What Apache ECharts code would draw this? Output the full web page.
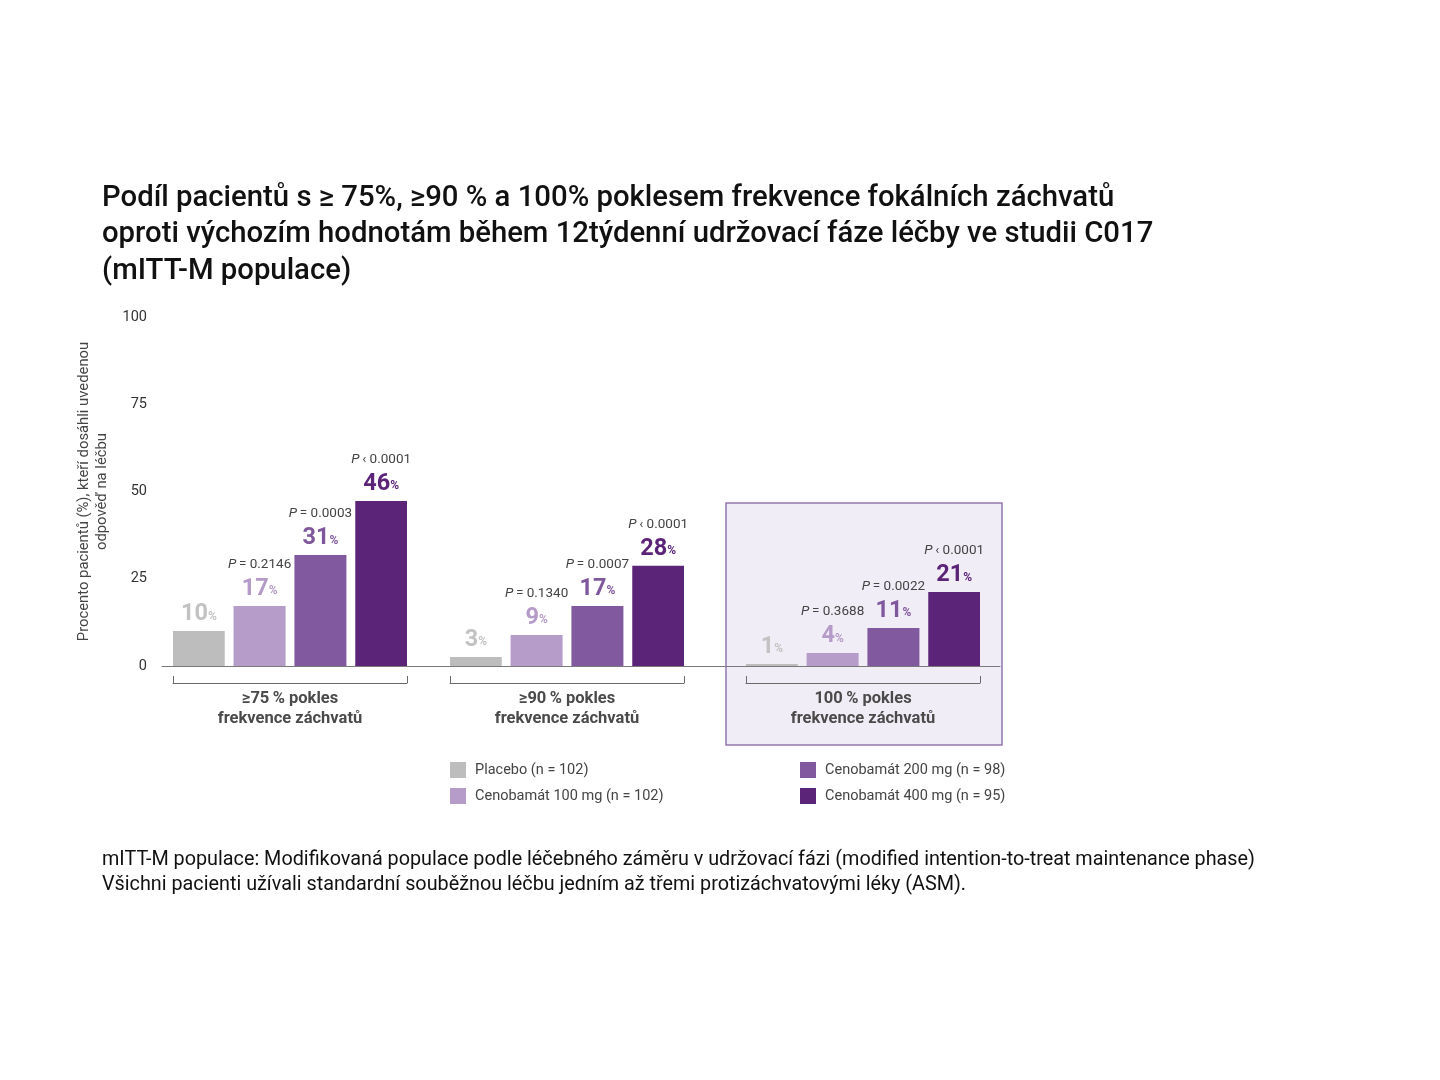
<!DOCTYPE html>
<html>
<head>
<meta charset="utf-8">
<script src="https://cdn.jsdelivr.net/npm/echarts@6/dist/echarts.min.js"></script>
<style>
html,body{margin:0;padding:0;background:#fff;}
#c{width:1440px;height:1080px;}
</style>
</head>
<body>
<div id="c"></div>
<script>
// ---- data ----
const groups = ['\u226575\u2009% pokles\nfrekvence záchvatů', '\u226590\u2009% pokles\nfrekvence záchvatů', '100\u2009% pokles\nfrekvence záchvatů'];
const seriesNames = ['Placebo (n = 102)', 'Cenobamát 100 mg (n = 102)', 'Cenobamát 200 mg (n = 98)', 'Cenobamát 400 mg (n = 95)'];
const placebo = [10, 2.6, 0.6];
const ceno100 = [17.2, 8.9, 3.7];
const ceno200 = [31.8, 17.2, 10.9];
const ceno400 = [47.3, 28.7, 21.2];
const placeboLbl = ['10', '3', '1'];
const ceno100Lbl = ['17', '9', '4'];
const ceno200Lbl = ['31', '17', '11'];
const ceno400Lbl = ['46', '28', '21'];
const ceno100P = ['= 0.2146', '= 0.1340', '= 0.3688'];
const ceno200P = ['= 0.0003', '= 0.0007', '= 0.0022'];
const ceno400P = ['\u2039 0.0001', '\u2039 0.0001', '\u2039 0.0001'];
const yTicks = [0, 25, 50, 75, 100];

// ---- style ----
const barColors = ['#bdbdbd', '#b69cc8', '#81599f', '#5c2479'];
const lblColors = ['#c2c2c2', '#b59bc7', '#7f579d', '#5c2479'];
const FONT = 'Roboto, "Noto Sans", sans-serif';
const gridLefts = [173, 450, 746];
const GRID_W = 234, GRID_TOP = 317, GRID_H = 349;

const values = [placebo, ceno100, ceno200, ceno400];
const lbls = [placeboLbl, ceno100Lbl, ceno200Lbl, ceno400Lbl];
const pvals = [null, ceno100P, ceno200P, ceno400P];

const grids = [], xAxes = [], yAxes = [], series = [];
// base grid: y labels + continuous baseline
grids.push({left: 162, width: 1000 - 162, top: GRID_TOP, height: GRID_H});
xAxes.push({gridIndex: 0, type: 'value', min: 0, max: 1, axisLine: {show: true, onZero: false, lineStyle: {color: '#7a7a7a', width: 1}},
  axisTick: {show: false}, axisLabel: {show: false}, splitLine: {show: false}});
yAxes.push({gridIndex: 0, type: 'value', min: 0, max: 100, interval: 25,
  axisLine: {show: false}, axisTick: {show: false}, splitLine: {show: false},
  axisLabel: {color: '#333', fontSize: 14.5, fontFamily: FONT, margin: 15,
    formatter: v => yTicks.includes(v) ? String(v) : ''},
  name: 'Procento pacientů (%), kteří dosáhli uvedenou\nodpověď na léčbu',
  nameLocation: 'middle', nameGap: 48, nameRotate: 90,
  nameTextStyle: {color: '#444', fontSize: 14.8, lineHeight: 18, fontFamily: FONT}});

groups.forEach((g, gi) => {
  const idx = gi + 1;
  grids.push({left: gridLefts[gi], width: GRID_W, top: GRID_TOP, height: GRID_H});
  xAxes.push({gridIndex: idx, type: 'category', data: [g], position: 'bottom', offset: 17,
    axisLine: {show: true, onZero: false, lineStyle: {color: '#6a6a6a', width: 1}},
    axisTick: {show: true, inside: true, length: 7, lineStyle: {color: '#6a6a6a'}},
    axisLabel: {color: '#4a4a4a', fontSize: 16.5, fontWeight: 'bold', fontFamily: FONT, lineHeight: 20, margin: 6}});
  yAxes.push({gridIndex: idx, type: 'value', min: 0, max: 100, show: false, splitLine: {show: false}});
  seriesNames.forEach((name, si) => {
    const p = pvals[si];
    const rich = {
      pi: {fontStyle: 'italic', fontSize: 13.5, color: '#444', fontFamily: FONT, lineHeight: 20},
      ps: {fontSize: 13.5, color: '#444', fontFamily: FONT, lineHeight: 20},
      v: {fontSize: 23.5, fontWeight: 'bold', color: lblColors[si], fontFamily: FONT, lineHeight: 28},
      pc: {fontSize: 12, fontWeight: 'bold', color: lblColors[si], fontFamily: FONT, lineHeight: 28, padding: [5, 0, 0, 0]}
    };
    series.push({
      type: 'bar', name: name, xAxisIndex: idx, yAxisIndex: idx,
      data: [values[si][gi]], barWidth: 52, barGap: '17%',
      itemStyle: {color: barColors[si]}, z: 3,
      label: {show: true, position: 'top', distance: 3, rich: rich,
        formatter: () => (p ? '{pi|P}{ps|\u2009' + p[gi] + '}\n' : '') + '{v|' + lbls[si][gi] + '}{pc|%}'}
    });
  });
});

const chart = echarts.init(document.getElementById('c'), null, {renderer: 'canvas'});
chart.setOption({
  animation: false,
  backgroundColor: '#fff',
  title: [
    {text: 'Podíl pacientů s \u2265 75%, \u226590 % a 100% poklesem frekvence fokálních záchvatů\noproti výchozím hodnotám během 12týdenní udržovací fáze léčby ve studii C017\n(mITT-M populace)',
     left: 102, top: 180, padding: 0,
     textStyle: {color: '#111', fontSize: 29.3, fontWeight: 500, lineHeight: 36.5, fontFamily: FONT}},
    {text: 'mITT-M populace: Modifikovaná populace podle léčebného záměru v udržovací fázi (modified intention-to-treat maintenance phase)\nVšichni pacienti užívali standardní souběžnou léčbu jedním až třemi protizáchvatovými léky (ASM).',
     left: 102, top: 848, padding: 0,
     textStyle: {color: '#111', fontSize: 19.8, fontWeight: 'normal', lineHeight: 25, fontFamily: FONT}}
  ],
  legend: [
    {left: 450, top: 762, padding: 0, orient: 'vertical', icon: 'rect', itemWidth: 16, itemHeight: 16, itemGap: 10,
     data: [seriesNames[0], seriesNames[1]], selectedMode: false,
     textStyle: {color: '#444', fontSize: 14.5, fontFamily: FONT, padding: [0, 0, 0, 4]}},
    {left: 800, top: 762, padding: 0, orient: 'vertical', icon: 'rect', itemWidth: 16, itemHeight: 16, itemGap: 10,
     data: [seriesNames[2], seriesNames[3]], selectedMode: false,
     textStyle: {color: '#444', fontSize: 14.5, fontFamily: FONT, padding: [0, 0, 0, 4]}}
  ],
  graphic: [
    {type: 'rect', z: 0, shape: {x: 726, y: 503, width: 276, height: 242},
     style: {fill: '#f1edf6', stroke: '#9277ae', lineWidth: 1.5}}
  ],
  grid: grids,
  xAxis: xAxes,
  yAxis: yAxes,
  series: series
});
</script>
</body>
</html>
